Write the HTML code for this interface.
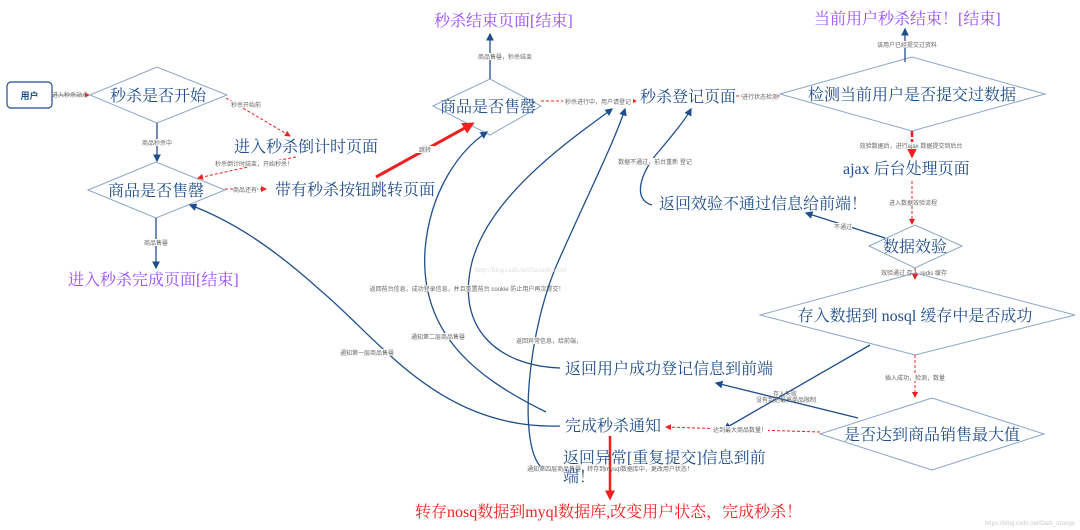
<!DOCTYPE html>
<html><head><meta charset="utf-8"><style>
html,body{margin:0;padding:0;background:#fff;}
svg{display:block;}
.t{font-family:"Liberation Serif","Noto Serif CJK SC",serif;font-size:16px;fill:#1f4e8c;}
.p{font-family:"Liberation Serif","Noto Serif CJK SC",serif;font-size:16px;fill:#9b4dff;}
.s{font-family:"Liberation Sans","Noto Sans CJK SC",sans-serif;font-size:6px;fill:#666;}
.d{fill:#fff;stroke:#8aa6c8;stroke-width:1;}
.b{fill:none;stroke:#1f4e8c;stroke-width:1.3;}
.r{fill:none;stroke:#f02020;stroke-width:1;stroke-dasharray:3,2;}
.lb{fill:#fff;}
</style></head><body>
<svg width="1080" height="530" viewBox="0 0 1080 530" xmlns="http://www.w3.org/2000/svg">
<defs>
<marker id="ab" markerWidth="6" markerHeight="6" refX="5" refY="3" orient="auto"><path d="M0,0 L6,3 L0,6z" fill="#1f4e8c"/></marker>
<marker id="ar" markerWidth="6" markerHeight="6" refX="5" refY="3" orient="auto"><path d="M0,0 L6,3 L0,6z" fill="#f02020"/></marker>
<marker id="arb" markerWidth="4" markerHeight="4" refX="3" refY="2" orient="auto"><path d="M0,0 L4,2 L0,4z" fill="#f02020"/></marker>
</defs>

<!-- user box -->
<rect x="7" y="82" width="45" height="26" rx="4" fill="#fff" stroke="#1f4e8c" stroke-width="1.2"/>
<text x="29.5" y="99" text-anchor="middle" font-family="Liberation Sans,Noto Sans CJK SC,sans-serif" font-size="9" font-weight="bold" fill="#1f4e8c">用户</text>

<!-- diamonds -->
<polygon class="d" points="90,95 157,67 227,95 157,123"/>
<polygon class="d" points="88,190 156,162 225,190 156,218"/>
<polygon class="d" points="433,106 490,79 541,106 490,135"/>
<polygon class="d" points="780,94 912,57 1045,94 912,131"/>
<polygon class="d" points="869,246 915,225 962,246 915,268"/>
<polygon class="d" points="760,315 915,273 1075,315 915,355"/>
<polygon class="d" points="820,434 932,398 1044,434 932,470"/>

<!-- connectors left -->
<line class="b" x1="52" y1="95" x2="89" y2="95" style="stroke:#888;stroke-width:0.8" marker-end="url(#ar)"/>
<text class="s" x="70" y="97" text-anchor="middle">进入秒杀站点</text>
<line class="b" x1="157" y1="123" x2="157" y2="161" marker-end="url(#ab)"/>
<rect class="lb" x="140" y="139" width="34" height="7"/><text class="s" x="157" y="145" text-anchor="middle">商品秒杀中</text>
<line class="r" x1="226" y1="98" x2="290" y2="136" marker-end="url(#ar)"/>
<rect class="lb" x="230" y="101" width="32" height="7"/><text class="s" x="246" y="107" text-anchor="middle">秒杀开始前</text>
<path class="r" d="M296,157 L280,160 L198,178" marker-end="url(#ar)"/>
<rect class="lb" x="212" y="160" width="84" height="7"/><text class="s" x="254" y="166" text-anchor="middle">秒杀倒计时结束，开始秒杀！</text>
<line class="r" x1="225" y1="189" x2="266" y2="189" marker-end="url(#ar)"/>
<rect class="lb" x="233" y="186" width="24" height="7"/><text class="s" x="245" y="192" text-anchor="middle">商品还有</text>
<line class="b" x1="156" y1="218" x2="156" y2="268" marker-end="url(#ab)"/>
<rect class="lb" x="143" y="239" width="26" height="7"/><text class="s" x="156" y="245" text-anchor="middle">商品售罄</text>

<!-- red thick jump -->
<line x1="376" y1="177" x2="472" y2="124" stroke="#f02020" stroke-width="3" marker-end="url(#arb)"/>
<rect class="lb" x="416" y="146" width="18" height="7"/><text class="s" x="425" y="152" text-anchor="middle">跳转</text>

<!-- diamond3 top -->
<line class="b" x1="490" y1="79" x2="490" y2="34" marker-end="url(#ab)"/>
<rect class="lb" x="476" y="53" width="58" height="7"/><text class="s" x="505" y="59" text-anchor="middle">商品售罄，秒杀结束</text>
<line class="r" x1="541" y1="101" x2="636" y2="101" marker-end="url(#ar)"/>
<rect class="lb" x="563" y="98" width="70" height="7"/><text class="s" x="598" y="104" text-anchor="middle">秒杀进行中，用户请登记</text>
<line class="r" x1="736" y1="96" x2="779" y2="96" marker-end="url(#ar)"/>
<rect class="lb" x="742" y="93" width="36" height="7"/><text class="s" x="760" y="99" text-anchor="middle">进行状态检测</text>

<!-- right column -->
<line class="b" x1="905" y1="62" x2="905" y2="29" marker-end="url(#ab)"/>
<rect class="lb" x="875" y="41" width="64" height="7"/><text class="s" x="907" y="47" text-anchor="middle">该用户已经提交过资料</text>
<line x1="912" y1="131" x2="912" y2="156" stroke="#f02020" stroke-width="2.5" stroke-dasharray="6,2" marker-end="url(#arb)"/>
<rect class="lb" x="858" y="142" width="106" height="7"/><text class="s" x="911" y="148" text-anchor="middle">效验数据后，进行ajax 数据提交到后台</text>
<line class="r" x1="912" y1="181" x2="912" y2="224" marker-end="url(#ar)"/>
<rect class="lb" x="886" y="199" width="54" height="7"/><text class="s" x="913" y="205" text-anchor="middle">进入数据效验流程</text>
<line class="b" x1="885" y1="238" x2="806" y2="213" marker-end="url(#ab)"/>
<rect class="lb" x="834" y="223" width="18" height="7"/><text class="s" x="843" y="229" text-anchor="middle">不通过</text>
<line class="r" x1="915" y1="268" x2="915" y2="279" marker-end="url(#ar)"/>
<text class="s" x="914" y="275" text-anchor="middle">效验通过 存入 redis 缓存</text>
<line class="r" x1="915" y1="355" x2="915" y2="397" marker-end="url(#ar)"/>
<rect class="lb" x="885" y="374" width="60" height="7"/><text class="s" x="915" y="380" text-anchor="middle">插入成功，检测，数量</text>
<line class="b" x1="870" y1="345" x2="724" y2="429" marker-end="url(#ab)"/>
<line class="b" x1="858" y1="418" x2="716" y2="383" marker-end="url(#ab)"/>
<text class="s" x="785" y="396" text-anchor="middle">存入失败</text>
<text class="s" x="786" y="402" text-anchor="middle">没有到达最高商品限制</text>
<line class="r" x1="820" y1="432" x2="666" y2="427" marker-end="url(#ar)"/>
<rect class="lb" x="712" y="426" width="56" height="7"/><text class="s" x="740" y="432" text-anchor="middle">达到最大商品数量！</text>

<!-- curves -->
<path class="b" d="M560,426 C440,430 380,340 320,290 C270,245 230,220 190,205" marker-end="url(#ab)"/>
<rect class="lb" x="340" y="349" width="54" height="7"/><text class="s" x="367" y="355" text-anchor="middle">通知第一层商品售罄</text>
<path class="b" d="M546,412 C470,375 420,330 425,250 C430,190 460,150 487,132" marker-end="url(#ab)"/>
<rect class="lb" x="410" y="333" width="56" height="7"/><text class="s" x="438" y="339" text-anchor="middle">通知第二层商品售罄</text>
<path class="b" d="M560,368 C500,366 455,330 472,262 C490,195 570,140 612,109" marker-end="url(#ab)"/>
<rect class="lb" x="362" y="285" width="210" height="7"/><text class="s" x="467" y="291" text-anchor="middle">返回前台信息，成功登录信息，并且重置前台 cookie 防止用户再次提交！</text>
<path class="b" d="M540,466 C518,440 528,330 558,262 C590,190 615,140 625,109" marker-end="url(#ab)"/>
<rect class="lb" x="522" y="337" width="54" height="7"/><text class="s" x="549" y="343" text-anchor="middle">返回异常信息，给前端，</text>
<path class="b" d="M652,205 C632,200 640,172 660,150 C675,132 685,120 691,109" marker-end="url(#ab)"/>
<rect class="lb" x="617" y="158" width="76" height="7"/><text class="s" x="655" y="164" text-anchor="middle">数据不通过，前台重新 登记</text>

<text x="475" y="272" font-family="Liberation Serif,serif" font-size="7" fill="#ddd">http://blog.csdn.net/taotaobaobei</text>

<!-- red thick vertical -->
<line x1="610" y1="436" x2="610" y2="498" stroke="#f02020" stroke-width="2.5" marker-end="url(#arb)"/>
<text class="s" x="610" y="471" text-anchor="middle">通知第四层商品售罄，转存到mysql数据库中，更改用户状态！</text>

<!-- diamond texts -->
<text class="t" x="158" y="101" text-anchor="middle">秒杀是否开始</text>
<text class="t" x="156" y="196" text-anchor="middle">商品是否售罄</text>
<text class="t" x="488" y="112" text-anchor="middle">商品是否售罄</text>
<text class="t" x="912" y="100" text-anchor="middle">检测当前用户是否提交过数据</text>
<text class="t" x="915" y="252" text-anchor="middle">数据效验</text>
<text class="t" x="915" y="321" text-anchor="middle">存入数据到 nosql 缓存中是否成功</text>
<text class="t" x="932" y="440" text-anchor="middle">是否达到商品销售最大值</text>

<!-- plain texts -->
<text class="t" x="234" y="152">进入秒杀倒计时页面</text>
<text class="t" x="275" y="195">带有秒杀按钮跳转页面</text>
<text class="p" x="68" y="285">进入秒杀完成页面[结束]</text>
<text class="p" x="434" y="26">秒杀结束页面[结束]</text>
<text class="t" x="640" y="102">秒杀登记页面</text>
<text class="p" x="814" y="24">当前用户秒杀结束！[结束]</text>
<text class="t" x="843" y="174">ajax 后台处理页面</text>
<text class="t" x="659" y="209">返回效验不通过信息给前端！</text>
<text class="t" x="565" y="374">返回用户成功登记信息到前端</text>
<text class="t" x="565" y="431">完成秒杀通知</text>
<text class="t" x="563" y="463">返回异常[重复提交]信息到前</text>
<text class="t" x="563" y="482">端！</text>
<text x="415" y="517" font-family="Liberation Serif,Noto Serif CJK SC,serif" font-size="16" fill="#f02020">转存nosq数据到myql数据库,改变用户状态，完成秒杀！</text>
<text x="1075" y="525" text-anchor="end" font-family="Liberation Sans,sans-serif" font-size="6" fill="#ccc">https://blog.csdn.net/Dark_orange</text>
</svg>
</body></html>
